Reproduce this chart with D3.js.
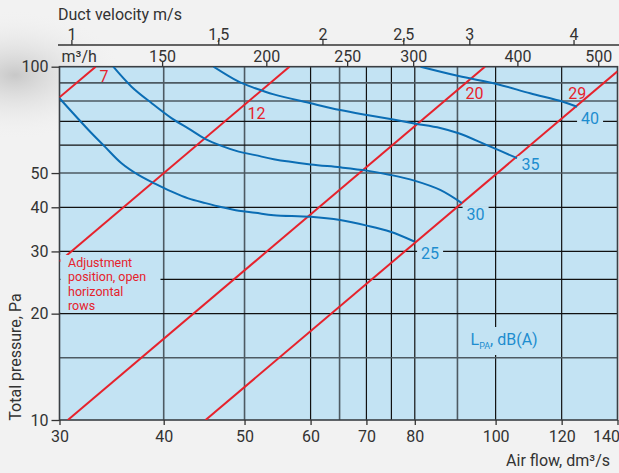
<!DOCTYPE html>
<html><head><meta charset="utf-8">
<script src="https://cdn.jsdelivr.net/npm/d3@7"></script>
<style>
body{margin:0;background:#f2f2f2;}
svg{display:block;font-family:Roboto, "Noto Sans", sans-serif;}
</style></head><body>
<svg id="c" width="619" height="473"></svg>
<script>
// ---------- data ----------
const flowTicks = [30, 40, 50, 60, 70, 80, 100, 120, 140];
const flowGrid = [40, 50, 60, 65, 70, 75, 80, 90, 100, 120];
const flowGridGray = [40, 50, 65, 90];
const pressureTicks = [10, 20, 30, 40, 50, 100];
const pressureGrid = [15, 20, 25, 30, 40, 50, 60, 70, 80, 90];
const pressureGridGray = [90, 80, 50, 15];
const velocityTicks = [1, 1.5, 2, 2.5, 3, 4];
const velocityLabels = ["1", "1,5", "2", "2,5", "3", "4"];
const m3hTicks = [150, 200, 250, 300, 400, 500];

// adjustment position lines: [flow dm3/s, pressure Pa] end points
const adjNames = ["7", "12", "20", "29"];
const adjLines = [
  [[30, 81.9], [33.15, 100]],
  [[30, 28.1], [56.6, 100]],
  [[30.7, 10], [97.1, 100]],
  [[44.9, 10], [140, 97]]
];
const adjLabelAt = [[33.5, 90.5], [50.4, 71.1], [92.0, 81.0], [122.2, 81.0]];

// sound level curves LpA dB(A)
const soundNames = ["25", "30", "35", "40"];
const curve25 = [[30,81.4],[32.5,66.2],[34.0,59.4],[35.6,53.3],[37.3,49.4],[39.1,46.6],[40.9,44.3],[42.8,42.4],[44.9,41.1],[47.0,40.0],[49.2,39.1],[51.5,38.6],[54.2,38.0],[60.0,37.6],[65.1,36.8],[70.1,35.5],[74.8,34.1],[79.9,32.0]];
const curve30 = [[34.8,100],[36.6,87.8],[38.7,78.8],[40.9,71.4],[42.8,66.9],[44.9,62.4],[47.0,59.6],[49.2,57.5],[51.5,56.2],[54.2,54.7],[60.0,52.9],[65.1,51.9],[70.1,50.8],[74.8,49.4],[79.9,47.6],[85.8,44.8],[91.1,41.1]];
const curve35 = [[45.9,100],[49.2,90.7],[51.5,86.9],[54.2,83.5],[60.0,78.8],[65.1,75.4],[70.1,73.0],[75.1,71.0],[79.9,69.1],[85.8,67.1],[90.3,64.8],[97.6,60.0],[106.1,55.1]];
const curve40 = [[81.3,100],[90.3,94.1],[100.5,89.2],[110.0,84.1],[120.4,79.6],[125.2,77.0]];
const soundCurves = [curve25, curve30, curve35, curve40];
const soundLabelAt = [[81.4, 28.5], [92.3, 36.8], [107.4, 51.0], [126.6, 68.7]];

const noteLines = ["Adjustment", "position, open", "horizontal", "rows"];

// ---------- layout ----------
const L = 59.5, R = 617.5, T = 66.7, B = 420;
const RED = "#e6222c", BLUE = "#0b6db4", BLUET = "#1d8dcf", FILL = "#c3e3f3", INK = "#333";

const svg = d3.select("#c");
const defs = svg.append("defs");
const rg = defs.append("radialGradient").attr("id", "sh").attr("cx", 0.5).attr("cy", 0.5).attr("r", 0.5);
rg.append("stop").attr("offset", "0%").attr("stop-color", "#c8c8c8");
rg.append("stop").attr("offset", "100%").attr("stop-color", "#f2f2f2").attr("stop-opacity", 0);
svg.append("rect").attr("width", 619).attr("height", 473).attr("fill", "#f2f2f2");
svg.append("ellipse").attr("cx", 15).attr("cy", 75).attr("rx", 110).attr("ry", 65).attr("fill", "url(#sh)");

defs.append("clipPath").attr("id", "clip").append("rect")
  .attr("x", L).attr("y", T).attr("width", R - L).attr("height", B - T);

const x = d3.scaleLog().domain([30, 140]).range([L, R]);
const y = d3.scaleLog().domain([10, 100]).range([B, T]);
const xv = d3.scaleLog().domain([30 / 31, 140 / 31]).range([L, R]);
const xm = d3.scaleLog().domain([113, 113 * 140 / 30]).range([L, R]);

// plot background
svg.append("rect").attr("x", L).attr("y", T).attr("width", R - L).attr("height", B - T).attr("fill", FILL);

const grid = svg.append("g");
grid.selectAll(".vg").data(flowGrid).join("line")
  .attr("x1", d => x(d)).attr("x2", d => x(d)).attr("y1", T).attr("y2", B)
  .attr("stroke", d => flowGridGray.includes(d) ? "#4d5a62" : "#111")
  .attr("stroke-width", d => flowGridGray.includes(d) ? 1.6 : 1.2);
grid.selectAll(".hg").data(pressureGrid).join("line")
  .attr("y1", d => y(d)).attr("y2", d => y(d)).attr("x1", L).attr("x2", R)
  .attr("stroke", d => pressureGridGray.includes(d) ? "#4d5a62" : "#111")
  .attr("stroke-width", d => pressureGridGray.includes(d) ? 1.6 : 1.2);

// frame
svg.append("rect").attr("x", L).attr("y", T).attr("width", R - L).attr("height", B - T)
  .attr("fill", "none").attr("stroke", "#3a3f44").attr("stroke-width", 1.6);

const plot = svg.append("g").attr("clip-path", "url(#clip)");

// note box
const note = svg.append("g");
note.append("rect").attr("x", L + 1).attr("y", 255).attr("width", 100).attr("height", 57).attr("fill", FILL);
note.append("text").attr("fill", RED).attr("font-size", 12.5)
  .selectAll("tspan").data(noteLines).join("tspan")
  .attr("x", 68).attr("y", (d, i) => 266.5 + i * 14.5).text(d => d);

// LpA label with box
const lpa = svg.append("g");
lpa.append("rect").attr("x", 468).attr("y", 327).attr("width", 75).attr("height", 28).attr("fill", FILL);
const lt = lpa.append("text").attr("x", 470.5).attr("y", 344.5).attr("fill", BLUET).attr("font-size", 16);
lt.append("tspan").text("L");
lt.append("tspan").attr("font-size", 9).attr("dy", 4).text("PA");
lt.append("tspan").attr("dy", -4).text(", dB(A)");

// red adjustment lines
const line = d3.line().x(d => x(d[0])).y(d => y(d[1]));
plot.selectAll(".adj").data(adjLines).join("path")
  .attr("d", line).attr("fill", "none").attr("stroke", RED).attr("stroke-width", 2);

// blue curves
const cline = d3.line().x(d => x(d[0])).y(d => y(d[1])).curve(d3.curveCatmullRom.alpha(0.5));
plot.selectAll(".snd").data(soundCurves).join("path")
  .attr("d", cline).attr("fill", "none").attr("stroke", BLUE).attr("stroke-width", 2);

// labels
svg.selectAll(".al").data(adjNames).join("text")
  .attr("x", (d, i) => x(adjLabelAt[i][0])).attr("y", (d, i) => y(adjLabelAt[i][1]))
  .attr("fill", RED).attr("font-size", 16).text(d => d);

const sl = svg.selectAll(".sl").data(soundNames).join("g");
sl.append("rect")
  .attr("x", (d, i) => x(soundLabelAt[i][0]) - 4).attr("y", (d, i) => y(soundLabelAt[i][1]) - 14)
  .attr("width", 26).attr("height", 16).attr("fill", FILL);
sl.append("text")
  .attr("x", (d, i) => x(soundLabelAt[i][0])).attr("y", (d, i) => y(soundLabelAt[i][1]))
  .attr("fill", BLUET).attr("font-size", 16).text(d => d);

// axes
function style(g) {
  g.select(".domain").remove();
  g.selectAll(".tick line").attr("stroke", INK).attr("stroke-width", 1.3);
  g.selectAll(".tick text").attr("fill", INK).attr("font-size", 16).attr("font-family", "Roboto");
}
const ax = svg.append("g").attr("transform", `translate(0,${B})`)
  .call(d3.axisBottom(x).tickValues(flowTicks).tickFormat(d3.format("d")).tickSize(5).tickPadding(6)).call(style);
ax.selectAll(".tick text").filter(d => d === 140).attr("text-anchor", "end").attr("dx", 2);

svg.append("g").attr("transform", `translate(${L},0)`)
  .call(d3.axisLeft(y).tickValues(pressureTicks).tickFormat(d3.format("d")).tickSize(8).tickPadding(3)).call(style);

svg.append("g").attr("transform", `translate(0,${T})`)
  .call(d3.axisTop(xm).tickValues(m3hTicks).tickFormat(d3.format("d")).tickSize(5).tickPadding(0)).call(style)
  .selectAll(".tick text").attr("dy", "0em");

svg.append("line").attr("x1", 58).attr("x2", 619).attr("y1", 45).attr("y2", 45).attr("stroke", INK).attr("stroke-width", 1.5);
svg.append("g").attr("transform", `translate(0,45)`)
  .call(d3.axisTop(xv).tickValues(velocityTicks).tickFormat((d, i) => velocityLabels[i]).tickSize(5).tickPadding(0.5)).call(style)
  .selectAll(".tick text").attr("dy", "0em");

// titles
svg.append("text").attr("x", 58).attr("y", 20).attr("fill", INK).attr("font-size", 16).text("Duct velocity m/s");
svg.append("text").attr("x", 61.5).attr("y", 62).attr("fill", INK).attr("font-size", 16).text("m³/h");
svg.append("text").attr("x", 610).attr("y", 466).attr("text-anchor", "end").attr("fill", INK).attr("font-size", 16).text("Air flow, dm³/s");
svg.append("text").attr("transform", "translate(21,357) rotate(-90)").attr("text-anchor", "middle")
  .attr("fill", INK).attr("font-size", 16).text("Total pressure, Pa");
</script>
</body></html>
